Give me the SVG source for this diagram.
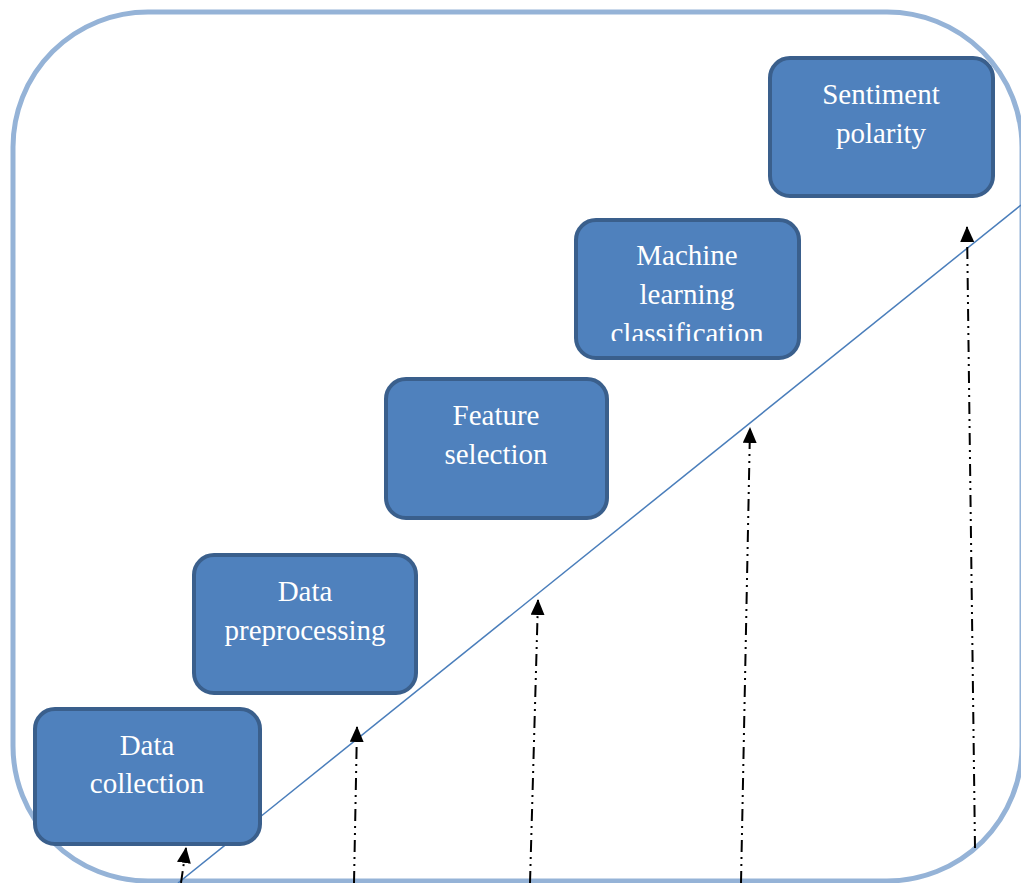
<svg xmlns="http://www.w3.org/2000/svg" width="1021" height="883" viewBox="0 0 1021 883">
<style>
.node rect.box{fill:#4f81bd;stroke:#3a5f8c;stroke-width:4}
.node text{font-family:"Liberation Serif","Times New Roman",Times,serif;font-size:29px;fill:#ffffff;text-anchor:middle}
.arrow{stroke:#000;stroke-width:2;fill:none;stroke-dasharray:12 5 2 5 2 5;marker-end:url(#ah)}
</style>
<defs>
<marker id="ah" viewBox="0 0 16 14" refX="15" refY="7" markerWidth="16" markerHeight="14" markerUnits="userSpaceOnUse" orient="auto">
<path d="M0,0 L16,7 L0,14 z" fill="#000"/>
</marker>
<clipPath id="clipML"><rect x="576" y="220" width="223" height="121"/></clipPath>
</defs>
<rect width="1021" height="883" fill="#fff"/>
<rect id="frame" x="13" y="12" width="1009" height="869" rx="135" ry="135" fill="none" stroke="#95b3d7" stroke-width="5"/>
<g id="connectors">
<line x1="178" y1="883" x2="1021" y2="205" stroke="#4a7ebb" stroke-width="1.5"/>
<path class="arrow" d="M181,883 L186,848"/>
<path class="arrow" d="M354,883 L357,727"/>
<path class="arrow" d="M530,883 L538,600"/>
<path class="arrow" d="M741,883 L750,428"/>
<path class="arrow" d="M975,848 L967,227"/>
</g>
<g id="n1" class="node"><rect class="box" x="35" y="709" width="225" height="135" rx="20"/><text x="147" y="755">Data</text><text x="147" y="793">collection</text></g>
<g id="n2" class="node"><rect class="box" x="194" y="555" width="222" height="138" rx="20"/><text x="305" y="601">Data</text><text x="305" y="640">preprocessing</text></g>
<g id="n3" class="node"><rect class="box" x="386" y="379" width="221" height="139" rx="20"/><text x="496" y="425">Feature</text><text x="496" y="464">selection</text></g>
<g id="n4" class="node"><rect class="box" x="576" y="220" width="223" height="138" rx="20"/><g clip-path="url(#clipML)"><text x="687" y="265">Machine</text><text x="687" y="304">learning</text><text x="687" y="343">classification</text></g></g>
<g id="n5" class="node"><rect class="box" x="770" y="58" width="223" height="138" rx="20"/><text x="881" y="104">Sentiment</text><text x="881" y="143">polarity</text></g>
</svg>
